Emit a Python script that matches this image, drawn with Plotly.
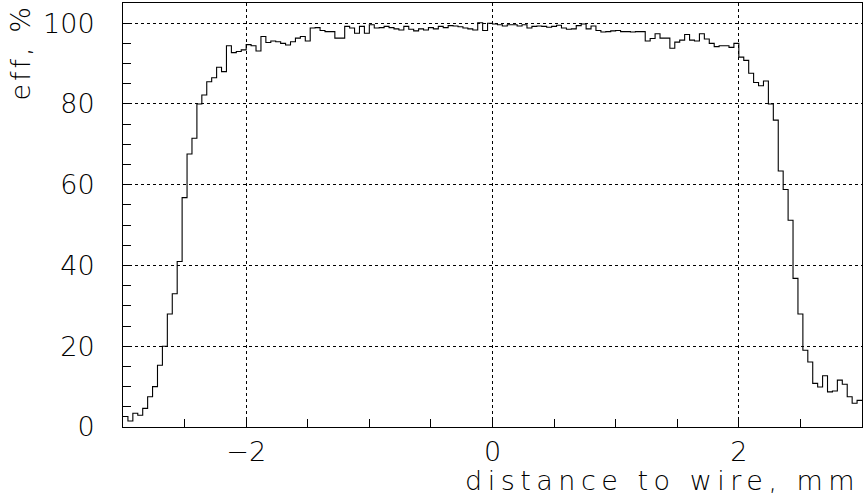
import numpy as np
import plotly.graph_objects as go

# histogram: efficiency (%) vs distance to wire (mm), 150 bins of 0.04 mm from -3 to 3
x_min, x_max, n_bins = -3.0, 3.0, 150
eff = [
    2.6, 1.5, 3.4, 2.9, 4.6, 7.5, 10.0, 15.3, 20.0, 28.0,
    33.0, 41.0, 56.8, 67.6, 71.5, 80.0, 82.2, 85.5, 86.5, 89.1,
    88.0, 94.4, 92.7, 93.0, 93.4, 94.7, 94.4, 93.1, 96.7, 95.2,
    95.6, 95.4, 95.0, 94.6, 95.4, 96.3, 96.7, 95.6, 98.8, 98.9,
    98.2, 97.9, 97.9, 96.3, 96.3, 99.2, 98.8, 97.5, 99.2, 97.5,
    99.6, 98.8, 98.9, 99.2, 98.9, 98.6, 98.3, 99.2, 98.5, 98.1,
    98.6, 98.3, 98.9, 98.6, 99.2, 98.9, 99.4, 99.3, 99.1, 98.8,
    98.6, 98.3, 100.1, 98.2, 100.0, 99.8, 99.6, 99.3, 99.6, 99.6,
    99.3, 99.6, 98.8, 99.2, 99.3, 99.2, 99.0, 99.2, 99.5, 98.8,
    98.5, 98.6, 99.4, 99.8, 98.6, 99.3, 98.2, 97.8, 97.9, 98.1,
    98.2, 97.9, 97.9, 97.8, 97.9, 97.9, 95.6, 96.2, 97.4, 96.3,
    96.3, 93.8, 95.3, 95.8, 97.2, 95.8, 95.6, 97.4, 96.1, 95.0,
    94.2, 94.4, 94.4, 94.0, 95.0, 91.6, 90.8, 87.6, 85.3, 84.5,
    85.7, 80.0, 76.0, 63.4, 58.8, 51.2, 36.8, 28.0, 19.0, 16.1,
    10.8, 9.9, 12.7, 8.7, 8.9, 11.6, 10.6, 7.5, 5.9, 6.6,
]
x_ticks = [-2, 0, 2]
y_ticks = [0, 20, 40, 60, 80, 100]
x_title = "distance to wire, mm"
y_title = "eff, %"

edges = np.linspace(x_min, x_max, n_bins + 1)
xs = list(edges)
ys = list(eff) + [eff[-1]]

FONT = "DejaVu Sans"
TXT = "#000000"
font = dict(family=FONT, size=27, color=TXT, weight=200)

fig = go.Figure()
fig.add_trace(go.Scatter(
    x=xs, y=ys, mode="lines", line=dict(shape="hv", color="black", width=1.1),
    showlegend=False, hoverinfo="skip",
))

axis_common = dict(
    showline=True, mirror=True, linecolor="black", linewidth=1,
    ticks="inside", ticklen=8, tickcolor="black", tickwidth=1,
    showgrid=True, gridcolor="black", griddash="dot", gridwidth=1,
    zeroline=False, automargin=False,
    tickfont=font,
)
fig.update_xaxes(
    range=[x_min, x_max], tickvals=x_ticks, ticktext=["\u22122", "0", "2"],
    minor=dict(dtick=0.5, ticks="inside", ticklen=8, tickcolor="black", showgrid=False),
    ticklabelstandoff=1,
    **axis_common,
)
fig.update_yaxes(
    range=[0, 105], tickvals=y_ticks,
    minor=dict(dtick=5, ticks="inside", ticklen=8, tickcolor="black", showgrid=False),
    ticklabelstandoff=22,
    **axis_common,
)

fig.add_annotation(
    text='<span style="letter-spacing:5.5px">' + x_title + '</span>',
    xref="paper", yref="paper", x=1.0, y=-0.127, xanchor="right", yanchor="middle",
    showarrow=False, font=font,
)
fig.add_annotation(
    text='<span style="letter-spacing:3px">' + y_title + '</span>',
    xref="paper", yref="paper", x=-0.14, y=1.0, xanchor="center", yanchor="top",
    textangle=-90, showarrow=False, font=font,
)

fig.update_layout(
    width=864, height=501,
    margin=dict(l=123, r=2, t=3, b=74),
    paper_bgcolor="white", plot_bgcolor="white",
)
fig.write_html("out.html", config={"displayModeBar": False},
               post_script="document.body.style.margin='0';")
